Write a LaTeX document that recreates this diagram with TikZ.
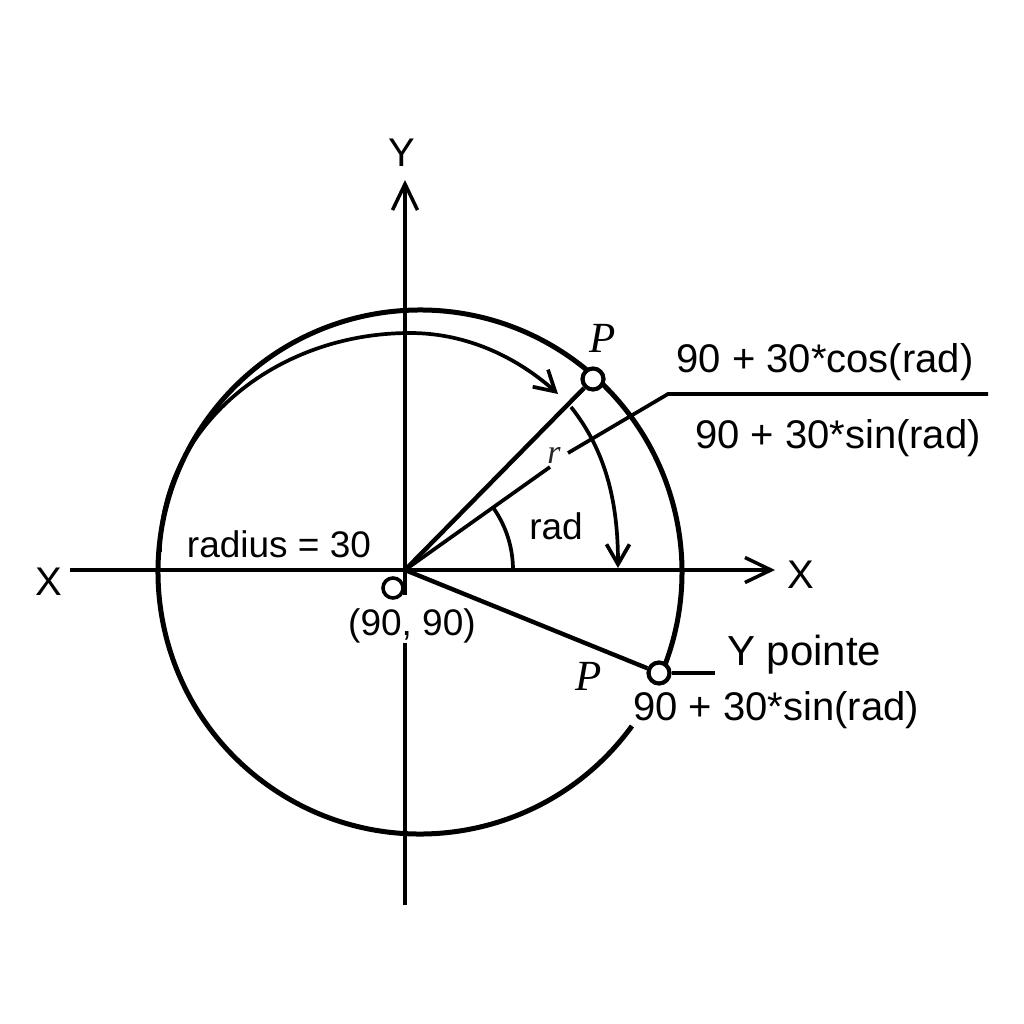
\documentclass[tikz,border=0pt]{standalone}
\usepackage{fontspec}
\setmainfont{Liberation Sans}
\newfontfamily\pfont{Liberation Serif}
\usetikzlibrary{arrows.meta}
\begin{document}
\begin{tikzpicture}[x=1pt,y=-1pt,
  axis/.style={line width=3.5pt},
  bold/.style={line width=4.4pt},
  circ/.style={line width=5pt},
  thin/.style={line width=3.7pt},
  marker/.style={circle,draw,fill=white,line width=4.2pt,minimum size=21pt,inner sep=0pt},
  omark/.style={circle,draw,fill=white,line width=3.6pt,minimum size=20pt,inner sep=0pt},
  lbl/.style={font=\fontsize{40}{48}\selectfont,inner sep=0pt},
  slbl/.style={font=\fontsize{37}{44}\selectfont,inner sep=0pt},
  plbl/.style={font=\pfont\itshape\fontsize{43}{50}\selectfont,inner sep=0pt},
  axtip/.style={-{Straight Barb[length=26pt,width=25pt,line width=3.5pt]}},
  arctip/.style={-{Straight Barb[length=20pt,width=23pt,line width=3.7pt]}}
]
\useasboundingbox (0,0) rectangle (1024,1024);
\fill[white] (0,0) rectangle (1024,1024);

% coordinates
\coordinate (O) at (405,570);
\coordinate (C) at (420,572);
\coordinate (xl) at (70,570);
\coordinate (xr) at (775,570);
\coordinate (yt) at (405,180);
\coordinate (yb) at (405,905);
\coordinate (ya) at (405,595);
\coordinate (yc) at (405,643);
\coordinate (rend) at (550,467);
\coordinate (lead1) at (568,453);
\coordinate (lead2) at (668,394);
\coordinate (lead3) at (988,394);
\coordinate (arcA) at (160,552);
\coordinate (arcTop) at (410,333);
\coordinate (arcEnd) at (558,394);
\coordinate (bigA) at (571,407);
\coordinate (bigB) at (618,568);
\coordinate (hend) at (715,673);

% axes
\draw[axis] (xl) -- (O);
\draw[axis,axtip] (O) -- (xr);
\draw[axis,axtip] (ya) -- (O) -- (yt);
\draw[axis] (yc) -- (yb);

% main circle with gap
\draw[circ] (C) ++(36:262) arc[start angle=36,end angle=383,radius=262];

% inner arc arrow
\draw[thin,arctip] (arcA) .. controls (160,428) and (274,333) .. (arcTop)
   .. controls (470,333) and (520,360) .. (arcEnd);

% big arc arrow
\draw[thin,arctip] (bigA) .. controls (605,450) and (618,500) .. (bigB);

% angle arc
\draw[thin] (O) ++(0:108) arc[start angle=0,end angle=-35.4,radius=108];

% markers
\node[marker] (P1) at (593,379) {};
\node[marker] (P2) at (659,673) {};
\node[omark] (M0) at (393,588) {};

% radius lines
\draw[bold] (O) -- (P1);
\draw[bold] (O) -- (P2);
\draw[thin] (O) -- (rend);
\draw[thin] (lead1) -- (lead2) -- (lead3);
\draw[thin] (P2) -- (hend);

% r glyph
\node[font=\pfont\itshape\fontsize{34}{40}\selectfont,inner sep=0pt,text=black!85] (rg) at (554,455) {r};

% labels
\node[lbl,anchor=base] (Ylab) at (402,167) {Y};
\node[lbl,anchor=base] (Xl) at (49,595) {X};
\node[lbl,anchor=base] (Xr) at (801,588) {X};
\node[slbl,anchor=base] (rad30) at (279,557) {radius = 30};
\node[slbl,anchor=base] (radl) at (556,539) {rad};
\node[slbl,anchor=base] (cen) at (412,635) {(90, 90)};
\node[lbl,anchor=base] (cosl) at (825,372) {90 + 30*cos(rad)};
\node[lbl,anchor=base] (sinl) at (838,448) {90 + 30*sin(rad)};
\node[lbl,anchor=base west,font=\fontsize{42}{50}\selectfont] (ypt) at (727,665) {Y pointe};
\node[lbl,anchor=base west] (sin2) at (633,720) {90 + 30*sin(rad)};
\node[plbl,anchor=base] (Pu) at (603,352) {P};
\node[plbl,anchor=base] (Pl) at (589,690) {P};
\end{tikzpicture}
\end{document}
